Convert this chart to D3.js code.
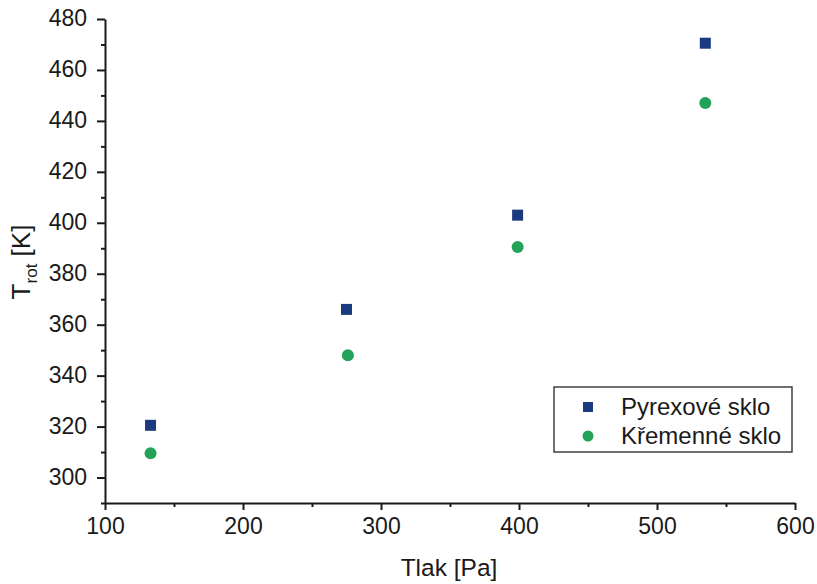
<!DOCTYPE html>
<html>
<head>
<meta charset="utf-8">
<script src="https://cdn.jsdelivr.net/npm/d3@7"></script>
<style>
  html, body { margin: 0; padding: 0; background: #fff; }
  svg text { font-family: "Liberation Sans", Arial, sans-serif; fill: #1a1a1a; }
  .tick-lbl text { font-size: 23px; }
</style>
</head>
<body>
<svg id="chart" width="817" height="584"></svg>
<script>
const pressure = [133, 275, 399, 535];
const pyrexValues = [320.5, 366, 403, 470.5];
const pressureQuartz = [133, 276, 399, 535];
const quartzValues = [309.5, 348, 390.5, 447];
const seriesNames = ["Pyrexové sklo", "Křemenné sklo"];
const xTicks = [100, 200, 300, 400, 500, 600];
const yTicks = [300, 320, 340, 360, 380, 400, 420, 440, 460, 480];

const svg = d3.select("#chart");
const x = d3.scaleLinear().domain([100, 600]).range([105, 795]);
const y = d3.scaleLinear().domain([290, 480]).range([503, 19]);

const axisColor = "#1a1a1a";
const fontFam = '"Liberation Sans", Arial, sans-serif';

// X axis
const gx = svg.append("g").attr("transform", `translate(0,${y(290)})`);
gx.call(d3.axisBottom(x).tickValues(d3.range(150, 600, 100)).tickSize(4).tickFormat(""));
gx.call(g => g.select(".domain").remove());
const gx2 = svg.append("g").attr("class", "tick-lbl").attr("transform", `translate(0,${y(290)})`)
  .call(d3.axisBottom(x).tickValues(xTicks).tickSize(7).tickPadding(8).tickSizeOuter(0));
gx2.attr("font-size", 23).attr("font-family", fontFam);
gx2.selectAll("text").attr("font-size", 23).attr("fill", "#1a1a1a");

// Y axis
const gy = svg.append("g").attr("transform", `translate(${x(100)},0)`);
gy.call(d3.axisLeft(y).tickValues(d3.range(290, 480, 20)).tickSize(4).tickFormat(""));
gy.call(g => g.select(".domain").remove());
const gy2 = svg.append("g").attr("class", "tick-lbl").attr("transform", `translate(${x(100)},0)`)
  .call(d3.axisLeft(y).tickValues(yTicks).tickSize(8).tickPadding(10).tickSizeOuter(0));
gy2.attr("font-size", 23).attr("font-family", fontFam);
gy2.selectAll("text").attr("font-size", 23).attr("fill", "#1a1a1a").attr("dy", "0.3em");
svg.selectAll("g path, g line").attr("stroke", axisColor).attr("stroke-width", 2);

// Axis titles
svg.append("text").attr("x", 449).attr("y", 576).attr("text-anchor", "middle")
  .style("font-size", "24.5px").text("Tlak [Pa]");
const yl = svg.append("text").attr("transform", "translate(30,262) rotate(-90)")
  .attr("text-anchor", "middle").style("font-size", "26px");
yl.append("tspan").text("T");
yl.append("tspan").attr("dy", 7).style("font-size", "17px").text("rot");
yl.append("tspan").attr("dy", -7).text(" [K]");

const squareColor = "#1b3a80";
const circleColor = "#23a25a";
const sq = 11;

svg.append("g").selectAll("rect").data(pressure.map((p, i) => [p, pyrexValues[i]]))
  .join("rect")
  .attr("x", d => x(d[0]) - sq / 2).attr("y", d => y(d[1]) - sq / 2)
  .attr("width", sq).attr("height", sq).attr("fill", squareColor);

svg.append("g").selectAll("circle").data(pressureQuartz.map((p, i) => [p, quartzValues[i]]))
  .join("circle")
  .attr("cx", d => x(d[0])).attr("cy", d => y(d[1])).attr("r", 6).attr("fill", circleColor);

// Legend
const lg = svg.append("g");
lg.append("rect").attr("x", 554).attr("y", 387).attr("width", 238).attr("height", 65)
  .attr("fill", "#fff").attr("stroke", "#333").attr("stroke-width", 1.4);
lg.append("rect").attr("x", 583).attr("y", 402).attr("width", 10).attr("height", 10).attr("fill", squareColor);
lg.append("circle").attr("cx", 588).attr("cy", 436).attr("r", 5.5).attr("fill", circleColor);
lg.append("text").attr("x", 621).attr("y", 415).style("font-size", "24px").text(seriesNames[0]);
lg.append("text").attr("x", 621).attr("y", 444).style("font-size", "24px").text(seriesNames[1]);
</script>
</body>
</html>
